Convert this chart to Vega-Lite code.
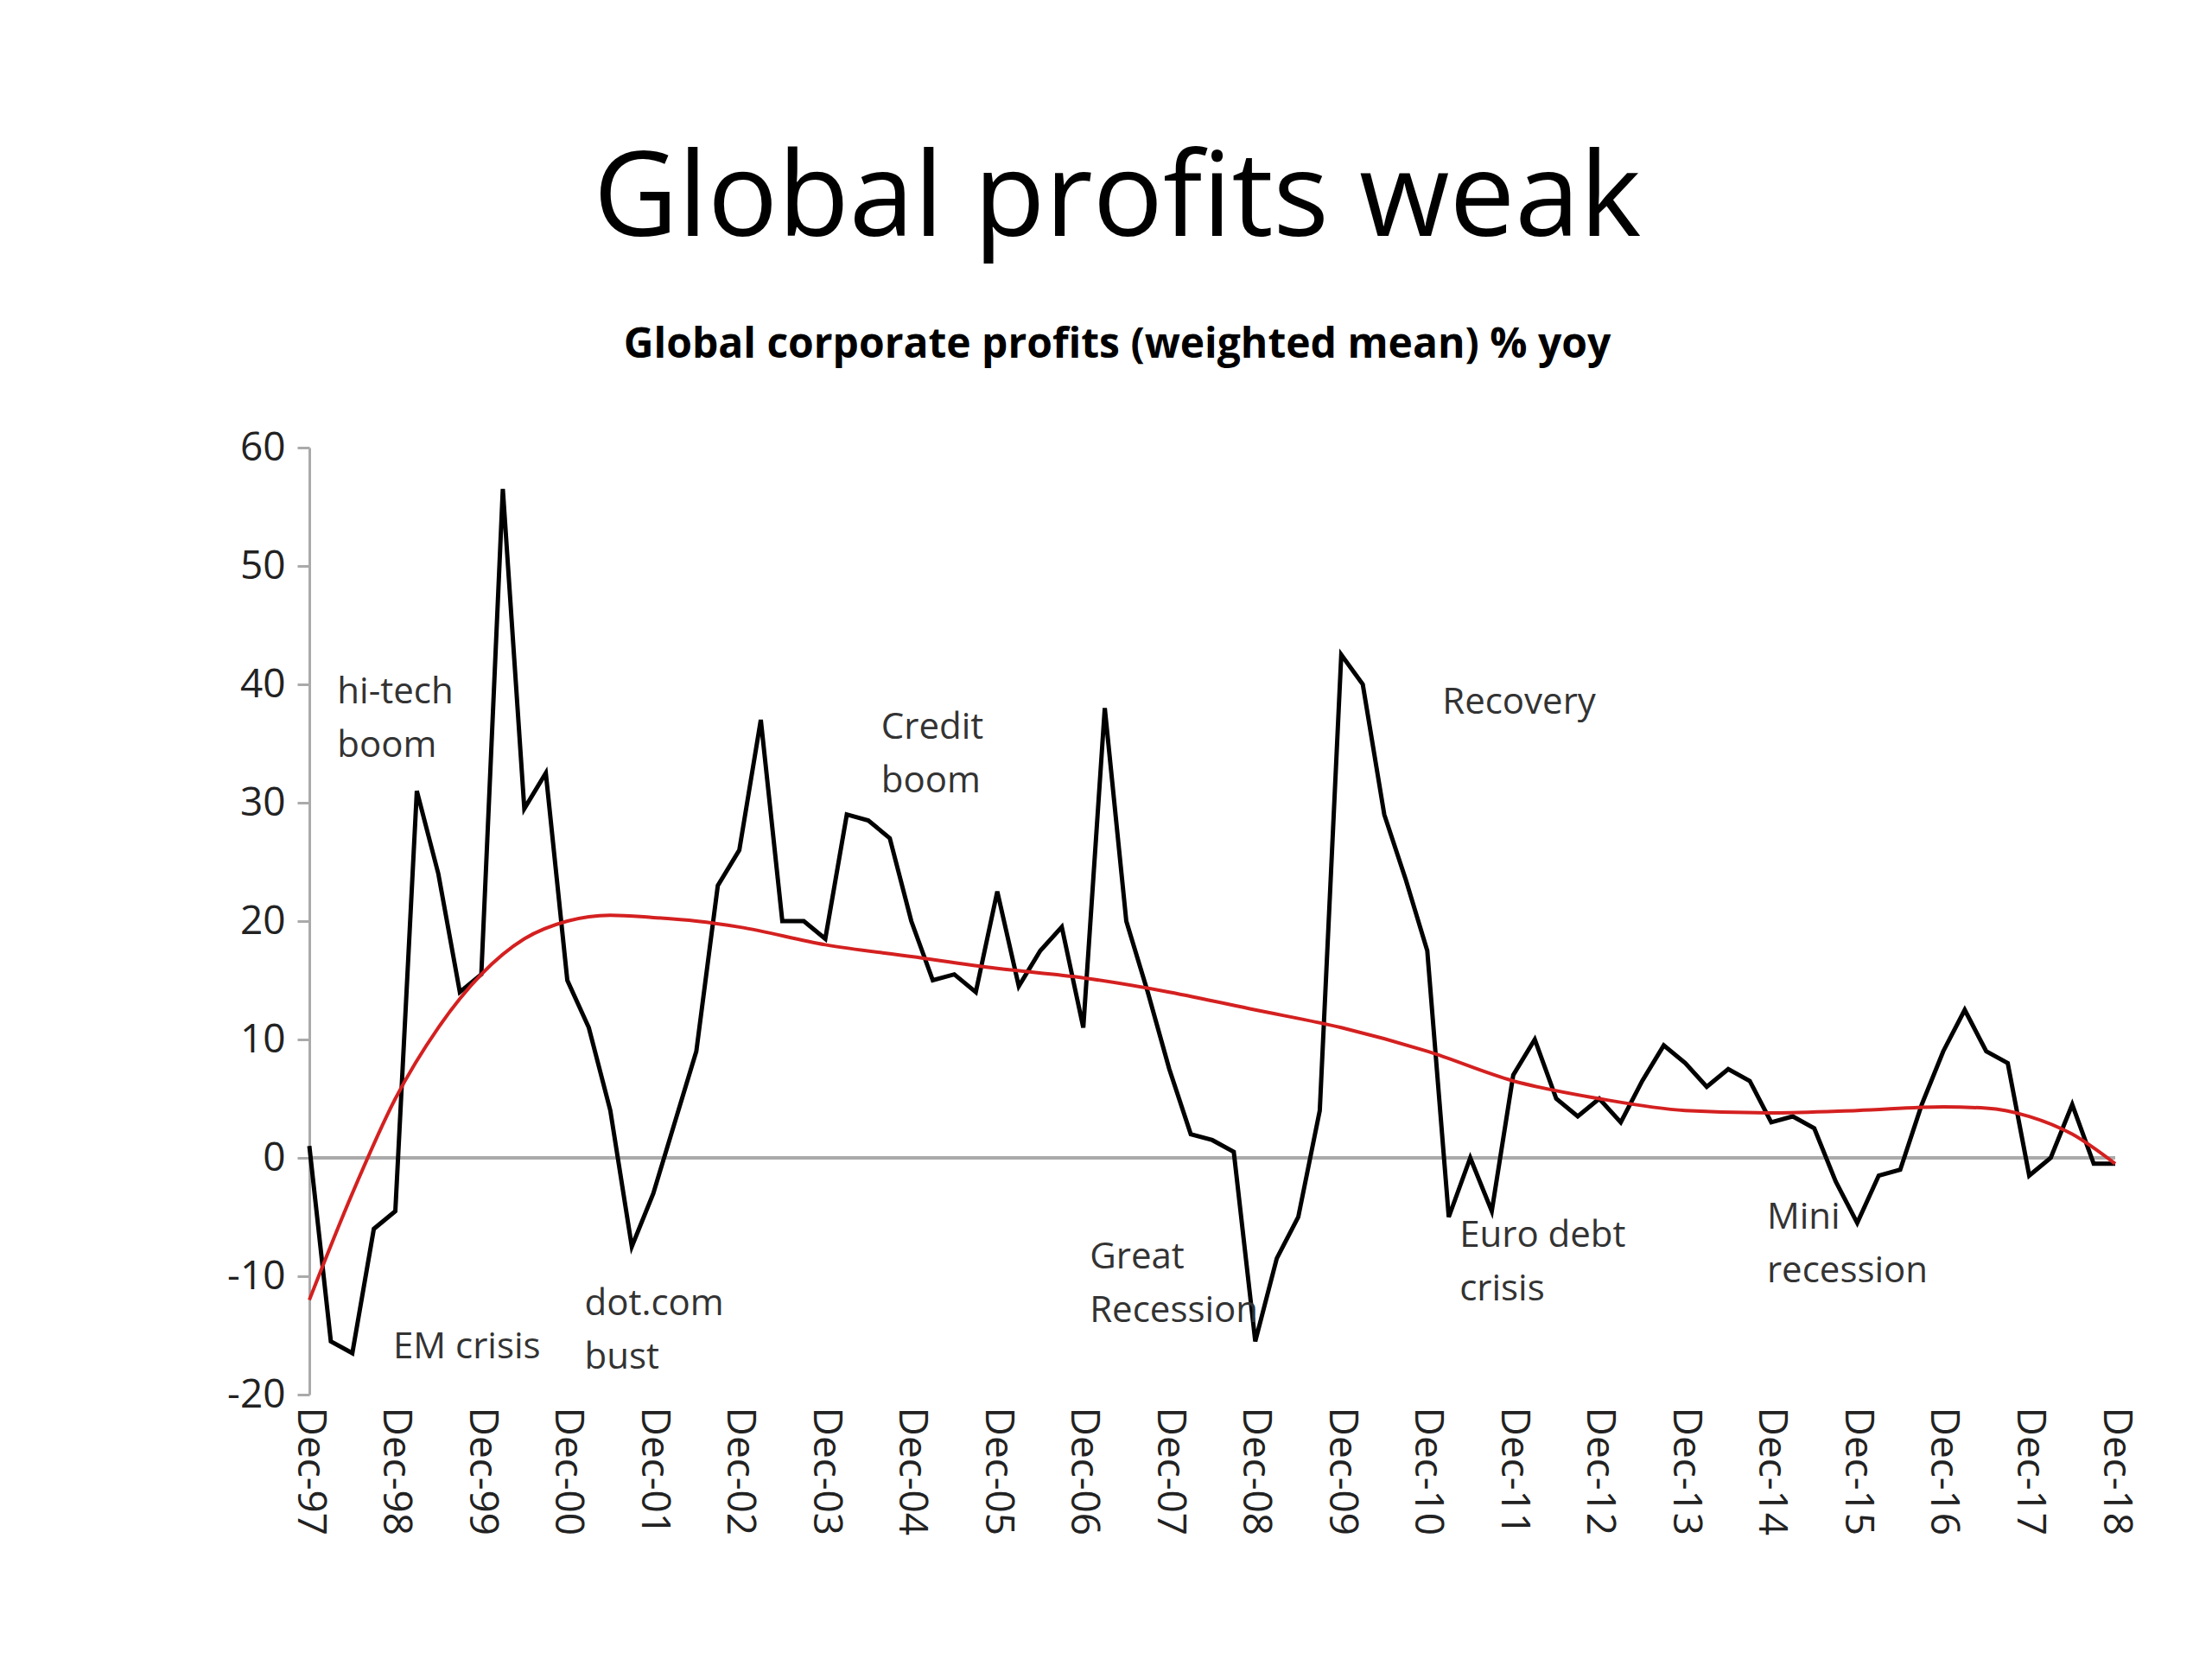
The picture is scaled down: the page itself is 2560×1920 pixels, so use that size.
{
  "$schema": "https://vega.github.io/schema/vega-lite/v6.json",
  "autosize": "none",
  "width": 2090,
  "height": 1096,
  "padding": {"left": 358, "top": 518, "right": 112, "bottom": 306},
  "background": "white",
  "config": {"view": {"stroke": null}},
  "title": {
    "text": "Global profits weak",
    "subtitle": "Global corporate profits (weighted mean) % yoy",
    "anchor": "middle",
    "frame": "group",
    "dx": -110,
    "fontSize": 135,
    "fontWeight": "normal",
    "font": "Open Sans",
    "subtitleFont": "Open Sans",
    "subtitleFontSize": 48,
    "subtitleFontWeight": "bold",
    "subtitleColor": "black",
    "subtitlePadding": 75,
    "offset": 70,
    "color": "black"
  },
  "datasets": {
    "profits": [
      {"q": 0, "v": 1}, {"q": 1, "v": -15.5}, {"q": 2, "v": -16.5}, {"q": 3, "v": -6},
      {"q": 4, "v": -4.5}, {"q": 5, "v": 31}, {"q": 6, "v": 24}, {"q": 7, "v": 14},
      {"q": 8, "v": 15.5}, {"q": 9, "v": 56.5}, {"q": 10, "v": 29.5}, {"q": 11, "v": 32.5},
      {"q": 12, "v": 15}, {"q": 13, "v": 11}, {"q": 14, "v": 4}, {"q": 15, "v": -7.5},
      {"q": 16, "v": -3}, {"q": 17, "v": 3}, {"q": 18, "v": 9}, {"q": 19, "v": 23},
      {"q": 20, "v": 26}, {"q": 21, "v": 37}, {"q": 22, "v": 20}, {"q": 23, "v": 20},
      {"q": 24, "v": 18.5}, {"q": 25, "v": 29}, {"q": 26, "v": 28.5}, {"q": 27, "v": 27},
      {"q": 28, "v": 20}, {"q": 29, "v": 15}, {"q": 30, "v": 15.5}, {"q": 31, "v": 14},
      {"q": 32, "v": 22.5}, {"q": 33, "v": 14.5}, {"q": 34, "v": 17.5}, {"q": 35, "v": 19.5},
      {"q": 36, "v": 11}, {"q": 37, "v": 38}, {"q": 38, "v": 20}, {"q": 39, "v": 14},
      {"q": 40, "v": 7.5}, {"q": 41, "v": 2}, {"q": 42, "v": 1.5}, {"q": 43, "v": 0.5},
      {"q": 44, "v": -15.5}, {"q": 45, "v": -8.5}, {"q": 46, "v": -5}, {"q": 47, "v": 4},
      {"q": 48, "v": 42.5}, {"q": 49, "v": 40}, {"q": 50, "v": 29}, {"q": 51, "v": 23.5},
      {"q": 52, "v": 17.5}, {"q": 53, "v": -5}, {"q": 54, "v": 0}, {"q": 55, "v": -4.5},
      {"q": 56, "v": 7}, {"q": 57, "v": 10}, {"q": 58, "v": 5}, {"q": 59, "v": 3.5},
      {"q": 60, "v": 5}, {"q": 61, "v": 3}, {"q": 62, "v": 6.5}, {"q": 63, "v": 9.5},
      {"q": 64, "v": 8}, {"q": 65, "v": 6}, {"q": 66, "v": 7.5}, {"q": 67, "v": 6.5},
      {"q": 68, "v": 3}, {"q": 69, "v": 3.5}, {"q": 70, "v": 2.5}, {"q": 71, "v": -2},
      {"q": 72, "v": -5.5}, {"q": 73, "v": -1.5}, {"q": 74, "v": -1}, {"q": 75, "v": 4.5},
      {"q": 76, "v": 9}, {"q": 77, "v": 12.5}, {"q": 78, "v": 9}, {"q": 79, "v": 8},
      {"q": 80, "v": -1.5}, {"q": 81, "v": 0}, {"q": 82, "v": 4.5}, {"q": 83, "v": -0.5},
      {"q": 84, "v": -0.5}
    ],
    "trend": [
      {"q": 0, "v": -12}, {"q": 2, "v": -3}, {"q": 4, "v": 5}, {"q": 6, "v": 11},
      {"q": 8, "v": 15.5}, {"q": 10, "v": 18.5}, {"q": 12, "v": 20}, {"q": 14, "v": 20.5},
      {"q": 16, "v": 20.3}, {"q": 18, "v": 20}, {"q": 20, "v": 19.5}, {"q": 24, "v": 18},
      {"q": 28, "v": 17}, {"q": 32, "v": 16}, {"q": 36, "v": 15.2}, {"q": 40, "v": 14},
      {"q": 44, "v": 12.5}, {"q": 48, "v": 11}, {"q": 52, "v": 9}, {"q": 56, "v": 6.5},
      {"q": 60, "v": 5}, {"q": 64, "v": 4}, {"q": 68, "v": 3.8}, {"q": 72, "v": 4},
      {"q": 76, "v": 4.3}, {"q": 78, "v": 4.2}, {"q": 80, "v": 3.5}, {"q": 82, "v": 2},
      {"q": 84, "v": -0.5}
    ],
    "notes": [
      {"q": 1.3, "v": 40.8, "label": "hi-tech\nboom"},
      {"q": 3.9, "v": -14.5, "label": "EM crisis"},
      {"q": 12.8, "v": -10.9, "label": "dot.com\nbust"},
      {"q": 26.6, "v": 37.8, "label": "Credit\nboom"},
      {"q": 36.3, "v": -6.9, "label": "Great\nRecession"},
      {"q": 52.7, "v": 39.9, "label": "Recovery"},
      {"q": 53.5, "v": -5.1, "label": "Euro debt\ncrisis"},
      {"q": 67.8, "v": -3.6, "label": "Mini\nrecession"}
    ],
    "zero": [{"v": 0}]
  },
  "encoding": {
    "x": {
      "field": "q",
      "type": "quantitative",
      "scale": {"domain": [0, 84], "nice": false},
      "axis": {
        "title": null,
        "values": [0, 4, 8, 12, 16, 20, 24, 28, 32, 36, 40, 44, 48, 52, 56, 60, 64, 68, 72, 76, 80, 84],
        "labelExpr": "'Dec-' + slice('0' + ((datum.value / 4 + 97) % 100), -2)",
        "labelAngle": 90,
        "labelAlign": "left",
        "labelBaseline": "middle",
        "labelFontSize": 46,
        "labelFont": "Open Sans",
        "labelColor": "#222",
        "labelPadding": 14,
        "domain": false,
        "ticks": false,
        "grid": false
      }
    },
    "y": {
      "field": "v",
      "type": "quantitative",
      "scale": {"domain": [-20, 60], "nice": false},
      "axis": {
        "title": null,
        "values": [-20, -10, 0, 10, 20, 30, 40, 50, 60],
        "labelExpr": "replace(datum.label, '\u2212', '-')",
        "labelFontSize": 46,
        "labelFont": "Open Sans",
        "labelColor": "#222",
        "labelPadding": 14,
        "domainColor": "#aaa",
        "domainWidth": 3,
        "tickColor": "#aaa",
        "tickWidth": 3,
        "tickSize": 14,
        "grid": false
      }
    }
  },
  "layer": [
    {
      "data": {"name": "zero"},
      "mark": {"type": "rule", "color": "#aaa", "strokeWidth": 4},
      "encoding": {"x": {"value": 0}, "x2": {"value": 2090}, "y": {"field": "v", "type": "quantitative"}}
    },
    {
      "data": {"name": "profits"},
      "mark": {"type": "line", "color": "black", "strokeWidth": 5}
    },
    {
      "data": {"name": "trend"},
      "mark": {"type": "line", "color": "#d42020", "strokeWidth": 4, "interpolate": "monotone"}
    },
    {
      "data": {"name": "notes"},
      "mark": {"type": "text", "align": "left", "baseline": "top", "fontSize": 42, "font": "Open Sans", "color": "#333", "lineBreak": "\n", "lineHeight": 62},
      "encoding": {"text": {"field": "label"}}
    }
  ]
}
